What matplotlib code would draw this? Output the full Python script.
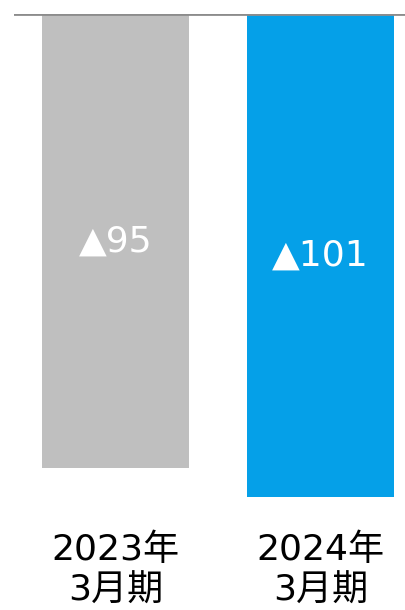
import matplotlib
matplotlib.use("Agg")
import matplotlib.pyplot as plt
import matplotlib.transforms as mtransforms

plt.rcParams['font.family'] = ['DejaVu Sans', 'Noto Sans CJK JP']

years = ["2023年", "2024年"]
periods = ["3月期", "3月期"]
values = [-95, -101]
labels = ["▲95", "▲101"]
colors = ["#BFBFBF", "#05A0E8"]

fig = plt.figure(figsize=(4.05, 6.1), dpi=100)
W, H = 405, 610
ax = fig.add_axes([14 / W, 1 - 497 / H, 391 / W, 483 / H])

x = list(range(len(years)))
bars = ax.bar(x, values, width=147 / 205, color=colors, zorder=2)
ax.axhline(0, color="#8C8C8C", lw=2, zorder=3)

for b, lab in zip(bars, labels):
    ax.text(b.get_x() + b.get_width() / 2, b.get_height() / 2, lab,
            ha="center", va="center", color="white", fontsize=26)

trans = mtransforms.blended_transform_factory(ax.transData, fig.transFigure)
for xi, yr, pr in zip(x, years, periods):
    ax.text(xi, 1 - 560 / H, yr, ha="center", va="baseline", fontsize=26,
            color="black", transform=trans)
    ax.text(xi, 1 - 601 / H, pr, ha="center", va="baseline", fontsize=26,
            color="black", transform=trans)

ax.set_xlim(-101.5 / 205, 1 + 84.5 / 205)
ax.set_ylim(-101, 0)
ax.axis("off")

fig.savefig("out.png", dpi=100)
